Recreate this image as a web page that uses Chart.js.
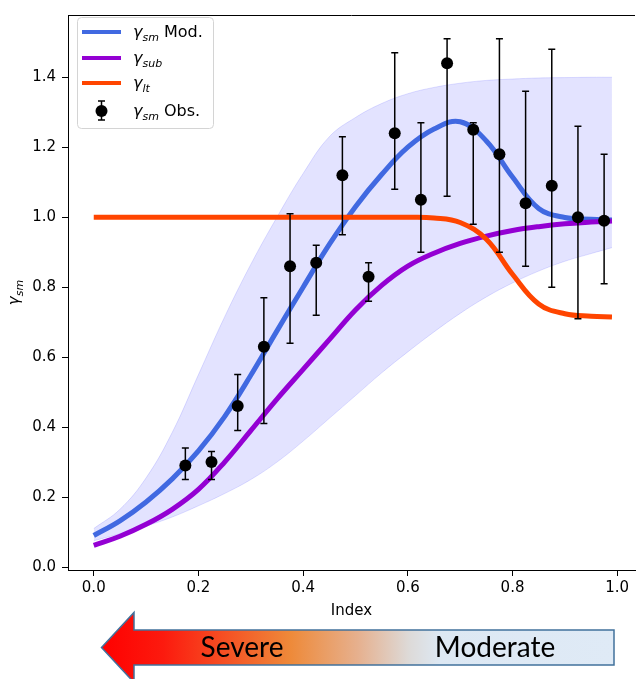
<!DOCTYPE html>
<html>
<head>
<meta charset="utf-8">
<script src="https://cdn.jsdelivr.net/npm/chart.js@4.4.0/dist/chart.umd.min.js"></script>
<style>
html, body { margin: 0; padding: 0; background: #fff; }
#wrap { width: 641px; height: 679px; }
</style>
</head>
<body>
<div id="wrap"><canvas id="chart" width="641" height="679"></canvas></div>
<script>
// model curves, sampled along the index axis
const curveX = [0, 0.05, 0.1, 0.15, 0.2, 0.25, 0.3, 0.35, 0.4, 0.45, 0.5, 0.55, 0.6, 0.65, 0.7, 0.75, 0.8, 0.85, 0.9, 0.95, 0.99];
const modY = [0.09, 0.132, 0.186, 0.252, 0.332, 0.43, 0.548, 0.675, 0.80, 0.922, 1.03, 1.122, 1.2, 1.252, 1.273, 1.218, 1.115, 1.025, 0.999, 0.994, 0.992];
const subY = [0.062, 0.088, 0.122, 0.165, 0.222, 0.30, 0.39, 0.48, 0.565, 0.65, 0.735, 0.805, 0.86, 0.897, 0.925, 0.946, 0.962, 0.973, 0.981, 0.986, 0.989];
const ltY = [1, 1, 1, 1, 1, 1, 1, 1, 1, 1, 1, 1, 1, 0.998, 0.985, 0.937, 0.837, 0.752, 0.724, 0.717, 0.715];
const bandHigh = [0.11, 0.165, 0.255, 0.385, 0.55, 0.715, 0.865, 1.0, 1.125, 1.23, 1.285, 1.325, 1.353, 1.371, 1.383, 1.391, 1.395, 1.398, 1.399, 1.40, 1.40];
const bandLow = [0.075, 0.095, 0.117, 0.143, 0.175, 0.21, 0.25, 0.30, 0.36, 0.425, 0.49, 0.555, 0.615, 0.672, 0.725, 0.772, 0.812, 0.846, 0.874, 0.896, 0.913];

// observations with error bars
const obsX = [0.175, 0.225, 0.275, 0.325, 0.375, 0.425, 0.475, 0.525, 0.575, 0.625, 0.675, 0.725, 0.775, 0.825, 0.875, 0.925, 0.975];
const obsY = [0.29, 0.30, 0.46, 0.63, 0.86, 0.87, 1.12, 0.83, 1.24, 1.05, 1.44, 1.25, 1.18, 1.04, 1.09, 1.00, 0.99];
const obsLow = [0.25, 0.25, 0.39, 0.41, 0.64, 0.72, 0.95, 0.76, 1.08, 0.90, 1.06, 0.98, 0.90, 0.86, 0.80, 0.71, 0.81];
const obsHigh = [0.34, 0.33, 0.55, 0.77, 1.01, 0.92, 1.23, 0.87, 1.47, 1.27, 1.51, 1.27, 1.51, 1.36, 1.48, 1.26, 1.18];

const xTicks = [0, 0.2, 0.4, 0.6, 0.8, 1.0];
const yTicks = [0, 0.2, 0.4, 0.6, 0.8, 1.0, 1.2, 1.4];

const BLUE = '#4169e1', PURPLE = '#9400d3', ORANGE = '#ff4500';
const FONT = "'DejaVu Sans'";

function pts(xs, ys) { return xs.map((v, i) => ({ x: v, y: ys[i] })); }

// draws gamma with an italic subscript, returns the width used
function gamma(ctx, x, y, sub, rest, size) {
  ctx.font = `italic ${size}px ${FONT}`;
  ctx.fillText('γ', x, y);
  let w = ctx.measureText('γ').width;
  ctx.font = `italic ${Math.round(size * 0.7)}px ${FONT}`;
  ctx.fillText(sub, x + w, y + size * 0.28);
  w += ctx.measureText(sub).width;
  if (rest) {
    ctx.font = `${size}px ${FONT}`;
    ctx.fillText(rest, x + w, y);
    w += ctx.measureText(rest).width;
  }
  return w;
}

function gammaWidth(ctx, sub, size) {
  ctx.font = `italic ${size}px ${FONT}`;
  let w = ctx.measureText('γ').width;
  ctx.font = `italic ${Math.round(size * 0.7)}px ${FONT}`;
  return w + ctx.measureText(sub).width;
}

const errorBars = {
  id: 'errorBars',
  afterDatasetsDraw(chart) {
    const { ctx, scales: { x, y } } = chart;
    ctx.save();
    ctx.strokeStyle = '#000';
    ctx.lineWidth = 1.5;
    obsX.forEach((v, i) => {
      const px = x.getPixelForValue(v);
      const top = y.getPixelForValue(obsHigh[i]);
      const bot = y.getPixelForValue(obsLow[i]);
      ctx.beginPath();
      ctx.moveTo(px, top); ctx.lineTo(px, bot);
      ctx.moveTo(px - 3.5, top); ctx.lineTo(px + 3.5, top);
      ctx.moveTo(px - 3.5, bot); ctx.lineTo(px + 3.5, bot);
      ctx.stroke();
    });
    ctx.restore();
  }
};

const decorations = {
  id: 'decorations',
  afterDraw(chart) {
    const ctx = chart.ctx;
    const area = chart.chartArea;
    ctx.save();

    // top spine
    ctx.strokeStyle = '#000';
    ctx.lineWidth = 1;
    ctx.beginPath();
    ctx.moveTo(area.left, area.top + 0.5);
    ctx.lineTo(area.right, area.top + 0.5);
    ctx.stroke();

    // y axis title
    ctx.save();
    ctx.translate(19, (area.top + area.bottom) / 2);
    ctx.rotate(-Math.PI / 2);
    ctx.fillStyle = '#000';
    ctx.textBaseline = 'alphabetic';
    const tw = gammaWidth(ctx, 'sm', 15);
    gamma(ctx, -tw / 2, 0, 'sm', '', 15);
    ctx.restore();

    // legend
    const lx = 77, ly = 17, lw = 136, lh = 111;
    ctx.fillStyle = 'rgba(255,255,255,0.85)';
    ctx.strokeStyle = '#d4d4d4';
    ctx.lineWidth = 1;
    ctx.beginPath();
    ctx.roundRect(lx + 0.5, ly + 0.5, lw, lh, 4);
    ctx.fill();
    ctx.stroke();

    const rows = [
      { color: BLUE, sub: 'sm', rest: ' Mod.', y: 32 },
      { color: PURPLE, sub: 'sub', rest: '', y: 58 },
      { color: ORANGE, sub: 'lt', rest: '', y: 83 },
      { color: null, sub: 'sm', rest: ' Obs.', y: 111 }
    ];
    rows.forEach(r => {
      if (r.color) {
        ctx.strokeStyle = r.color;
        ctx.lineWidth = 4;
        ctx.lineCap = 'butt';
        ctx.beginPath();
        ctx.moveTo(82, r.y);
        ctx.lineTo(121, r.y);
        ctx.stroke();
      } else {
        ctx.strokeStyle = '#000';
        ctx.lineWidth = 1.5;
        ctx.beginPath();
        ctx.moveTo(101.5, r.y - 10); ctx.lineTo(101.5, r.y + 9);
        ctx.moveTo(98, r.y - 10); ctx.lineTo(105, r.y - 10);
        ctx.moveTo(98, r.y + 9); ctx.lineTo(105, r.y + 9);
        ctx.stroke();
        ctx.fillStyle = '#000';
        ctx.beginPath();
        ctx.arc(101.5, r.y, 6, 0, Math.PI * 2);
        ctx.fill();
      }
      ctx.fillStyle = '#000';
      ctx.textBaseline = 'alphabetic';
      gamma(ctx, 133, r.y + 5, r.sub, r.rest, 16);
    });

    // severity arrow under the axis
    const tipX = 101.5, headX = 134, endX = 614, midY = 647.5;
    const grad = ctx.createLinearGradient(tipX, 0, endX, 0);
    grad.addColorStop(0, '#ff0000');
    grad.addColorStop(0.12, '#fc1a0e');
    grad.addColorStop(0.37, '#ee8a3a');
    grad.addColorStop(0.5, '#e6b08e');
    grad.addColorStop(0.6, '#dddad8');
    grad.addColorStop(0.66, '#dde8f3');
    grad.addColorStop(1, '#dfeaf6');
    ctx.beginPath();
    ctx.moveTo(tipX, midY);
    ctx.lineTo(headX, midY - 35);
    ctx.lineTo(headX, midY - 17.5);
    ctx.lineTo(endX, midY - 17.5);
    ctx.lineTo(endX, midY + 17.5);
    ctx.lineTo(headX, midY + 17.5);
    ctx.lineTo(headX, midY + 35);
    ctx.closePath();
    ctx.fillStyle = grad;
    ctx.fill();
    ctx.strokeStyle = '#41719c';
    ctx.lineWidth = 1.5;
    ctx.stroke();

    ctx.fillStyle = '#000';
    ctx.textAlign = 'center';
    ctx.textBaseline = 'alphabetic';
    ctx.font = "28px Lato";
    ctx.fillText('Severe', 242, 657);
    ctx.fillText('Moderate', 495, 657);
    ctx.restore();
  }
};

const curveStyle = { pointRadius: 0, fill: false, tension: 0.4 };

new Chart(document.getElementById('chart'), {
  type: 'line',
  data: {
    datasets: [
      {
        ...curveStyle,
        label: 'band high',
        data: pts(curveX, bandHigh),
        borderColor: 'rgba(0,0,255,0.12)',
        borderWidth: 1,
        backgroundColor: 'rgba(0,0,255,0.11)',
        fill: '+1',
        order: 6
      },
      {
        ...curveStyle,
        label: 'band low',
        data: pts(curveX, bandLow),
        borderColor: 'rgba(0,0,255,0.12)',
        borderWidth: 1,
        order: 5
      },
      { ...curveStyle, label: 'γsm Mod.', data: pts(curveX, modY), borderColor: BLUE, borderWidth: 5, order: 4 },
      { ...curveStyle, label: 'γsub', data: pts(curveX, subY), borderColor: PURPLE, borderWidth: 5, order: 3 },
      { ...curveStyle, label: 'γlt', data: pts(curveX, ltY), borderColor: ORANGE, borderWidth: 5, order: 2 },
      {
        label: 'γsm Obs.',
        data: pts(obsX, obsY),
        showLine: false,
        pointRadius: 6,
        pointBackgroundColor: '#000',
        pointBorderColor: '#000',
        pointBorderWidth: 0,
        order: 1
      }
    ]
  },
  options: {
    responsive: false,
    animation: false,
    devicePixelRatio: 1,
    layout: { padding: { left: 0, top: 10, right: 1, bottom: 59 } },
    plugins: { legend: { display: false }, tooltip: { enabled: false } },
    scales: {
      x: {
        type: 'linear',
        min: -0.0492,
        max: 1.034,
        afterBuildTicks: axis => { axis.ticks = xTicks.map(v => ({ value: v })); },
        afterFit: axis => { axis.height = 50; },
        ticks: {
          callback: v => v.toFixed(1),
          color: '#000',
          font: { family: FONT, size: 15 },
          padding: 3,
          maxRotation: 0
        },
        grid: { drawOnChartArea: false, drawTicks: true, tickLength: 6, color: '#000', tickWidth: 1 },
        border: { display: true, color: '#000', width: 1 },
        title: { display: true, text: 'Index', color: '#000', font: { family: FONT, size: 15 }, padding: 0 }
      },
      y: {
        type: 'linear',
        min: -0.0085,
        max: 1.578,
        afterBuildTicks: axis => { axis.ticks = yTicks.map(v => ({ value: v })); },
        afterFit: axis => { axis.width = 68; },
        ticks: {
          callback: v => v.toFixed(1),
          color: '#000',
          font: { family: FONT, size: 15 },
          padding: 6
        },
        grid: { drawOnChartArea: false, drawTicks: true, tickLength: 6, color: '#000', tickWidth: 1 },
        border: { display: true, color: '#000', width: 1 }
      }
    }
  },
  plugins: [errorBars, decorations]
});
</script>
</body>
</html>
